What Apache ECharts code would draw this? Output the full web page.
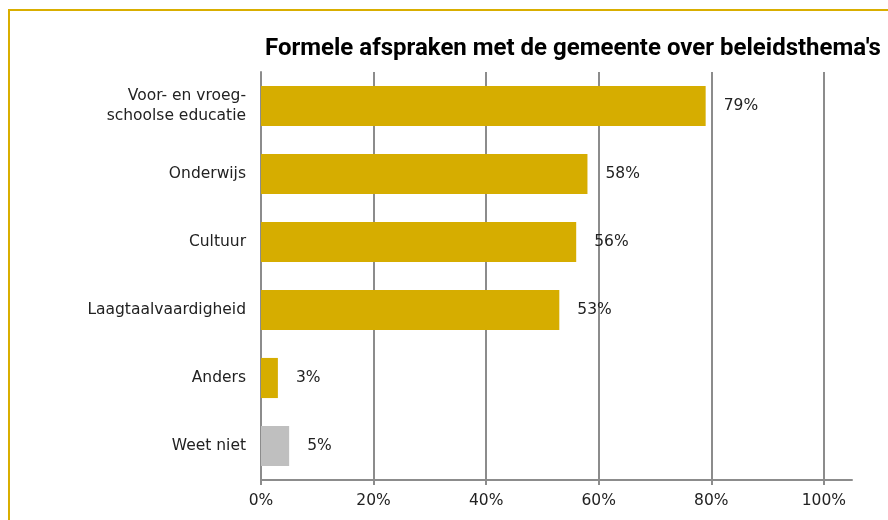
<!DOCTYPE html>
<html>
<head>
<meta charset="utf-8">
<script src="https://cdn.jsdelivr.net/npm/echarts@6/dist/echarts.min.js"></script>
<style>
  html, body { margin: 0; padding: 0; background: #fff; }
  #frame { position: absolute; left: 8px; top: 9px; width: 880px; height: 511px;
           border-top: 2px solid #D9AE00; border-left: 2px solid #D9AE00; }
  #chart { position: absolute; left: 0; top: 0; width: 888px; height: 520px; }
</style>
</head>
<body>
<div id="frame"></div>
<div id="chart"></div>
<script>
// categorieën van boven naar beneden
const categories = ["Voor- en vroeg-\nschoolse educatie", "Onderwijs", "Cultuur", "Laagtaalvaardigheid", "Anders", "Weet niet"];
const values = [79, 58, 56, 53, 3, 5];
const tickValues = [0, 20, 40, 60, 80, 100];

const gold = "#D6AD00";
const grey = "#BFBFBF";
const lineColor = "#8c8c8c";
const font = "'DejaVu Sans', Verdana, sans-serif";

const chart = echarts.init(document.getElementById("chart"), null, { renderer: "canvas" });

chart.setOption({
  animation: false,
  backgroundColor: "transparent",
  title: {
    text: "Formele afspraken met de gemeente over beleidsthema's",
    left: 260,
    top: 32,
    textStyle: { fontFamily: "Roboto, sans-serif", fontWeight: "bold", fontSize: 24, color: "#000" }
  },
  grid: { left: 261, right: 36, top: 72, bottom: 40, containLabel: false },
  xAxis: {
    type: "value",
    min: 0,
    max: 105,
    interval: 20,
    axisLine: { show: true, lineStyle: { color: lineColor, width: 2 } },
    axisTick: { show: true, length: 5, customValues: tickValues, lineStyle: { color: lineColor, width: 2 } },
    axisLabel: {
      customValues: tickValues,
      formatter: v => v + "%",
      fontFamily: font, fontSize: 15.5, color: "#222", margin: 13
    },
    splitLine: { show: true, lineStyle: { color: lineColor, width: 2 } }
  },
  yAxis: {
    type: "category",
    inverse: true,
    data: categories,
    axisLine: { show: true, lineStyle: { color: lineColor, width: 2 } },
    axisTick: { show: false },
    axisLabel: { fontFamily: font, fontSize: 15.5, color: "#222", margin: 15, lineHeight: 20, align: "right" }
  },
  series: [{
    type: "bar",
    barWidth: "59%",
    data: values.map((v, i) => ({
      value: v,
      itemStyle: { color: i === values.length - 1 ? grey : gold }
    })),
    label: {
      show: true,
      position: "right",
      distance: 18,
      formatter: p => p.value + "%",
      fontFamily: font, fontSize: 15.5, color: "#222"
    }
  }]
});
</script>
</body>
</html>
